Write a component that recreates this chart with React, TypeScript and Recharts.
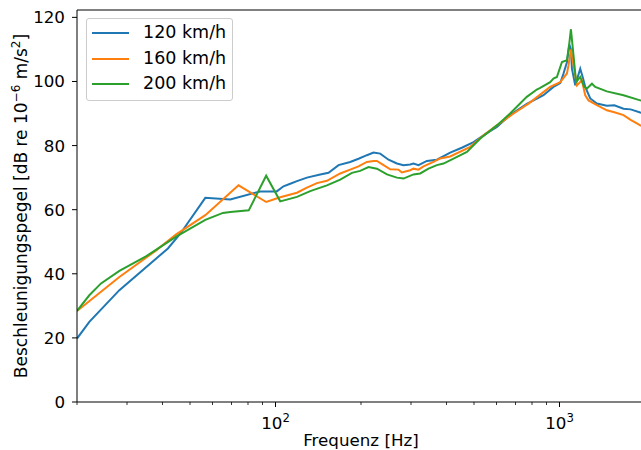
import { Label, Line, LineChart, ReferenceLine, XAxis, YAxis } from "recharts";

// 120 km/h
const freq120 = [
  20, 22.1, 28.2, 41.8, 46.2, 56.6, 69.3, 88.3, 101, 106.7, 112.7, 119, 129,
  143.7, 153.7, 166.7, 183.2, 196, 209.8, 221.3, 233.8, 250, 267.6, 282.3, 298,
  306.1, 318.8, 341.3, 370, 412.3, 455, 498, 555, 602, 670, 767, 810, 878, 952,
  1006, 1033, 1062, 1083, 1097, 1106, 1136, 1160, 1183, 1210, 1232, 1283, 1354,
  1468, 1560, 1680, 1780, 1924, 2000,
];
const level120 = [
  19.8, 25.0, 34.9, 47.9, 52.5, 63.7, 63.2, 65.7, 65.7, 67.3, 68.1, 68.9, 70.0,
  71.0, 71.5, 73.9, 74.9, 75.9, 77.0, 77.8, 77.5, 75.6, 74.4, 73.9, 74.1, 74.4,
  73.9, 75.2, 75.6, 77.8, 79.4, 81.1, 83.9, 85.8, 89.5, 93.0, 94.1, 95.7, 98.3,
  99.5, 102.5, 106.0, 111.5, 110.0, 104.0, 98.8, 101.5, 104.0, 101.0, 98.3,
  94.7, 93.1, 92.4, 92.6, 91.5, 91.3, 90.3, 90.1,
];

// 160 km/h
const freq160 = [
  20, 28.2, 38, 44.7, 56.6, 74.1, 92.7, 103.9, 119, 129, 139.9, 151.7, 169,
  183.2, 196, 209.8, 221.3, 227.5, 240.2, 253.5, 271.1, 278.6, 298, 306.1,
  318.8, 331.9, 359.9, 380, 412, 485, 540, 602, 689, 778, 927, 1006, 1062, 1076,
  1097, 1120, 1152, 1199, 1232, 1265, 1354, 1468, 1560, 1680, 1780, 1873, 1924,
  2000,
];
const level160 = [
  28.4, 39.0, 47.3, 52.3, 58.3, 67.6, 62.4, 63.9, 65.3, 66.9, 68.3, 69.0, 71.3,
  72.5, 73.5, 74.9, 75.2, 75.2, 73.9, 72.6, 72.5, 71.6, 72.3, 72.8, 72.5, 73.5,
  74.9, 76.0, 76.6, 79.6, 83.2, 86.3, 90.0, 93.1, 98.3, 99.8, 102.5, 105.1,
  110.0, 105.1, 98.8, 100.4, 95.7, 94.1, 92.6, 91.0, 90.4, 89.5, 88.0, 86.9,
  86.3, 85.7,
];

// 200 km/h
const freq200 = [
  20, 22.1, 24.3, 28.2, 35.1, 44.7, 56.6, 65.3, 69.3, 80.5, 92.7, 103.9, 119,
  132.5, 151.7, 169, 185.8, 198.7, 212.5, 227.5, 246.9, 267.6, 282.3, 306.1,
  323.2, 345.7, 370, 390.4, 423.5, 472, 526, 602, 670, 767, 832, 855, 927, 952,
  979, 1020, 1062, 1083, 1097, 1120, 1144, 1183, 1222, 1249, 1301, 1336, 1468,
  1680, 1924, 2000,
];
const level200 = [
  28.4, 33.3, 37.0, 40.9, 45.5, 51.6, 56.8, 59.0, 59.3, 59.8, 70.6, 62.6, 64.0,
  65.8, 67.6, 69.4, 71.5, 72.1, 73.3, 72.8, 71.0, 70.0, 69.7, 71.0, 71.3, 72.8,
  73.9, 74.4, 75.9, 78.0, 82.2, 86.3, 90.0, 95.2, 97.5, 98.0, 99.8, 100.9,
  101.4, 106.1, 106.6, 112.0, 116.3, 108.2, 99.8, 101.4, 98.3, 97.8, 99.3, 98.3,
  96.9, 95.7, 94.1, 93.8,
];

const X_TICKS = [
  20, 30, 40, 50, 60, 70, 80, 90, 100, 200, 300, 400, 500, 600, 700, 800, 900,
  1000, 2000,
];
const Y_TICKS = [0, 20, 40, 60, 80, 100, 120];
const Y_MAX = 122.3;

const FONT = "'DejaVu Sans', sans-serif";
const FS = 16.7;

const toPoints = (f: number[], v: number[]) =>
  f.map((x, i) => ({ f: x, v: v[i] }));

const SERIES = [
  { name: "120 km/h", color: "#1f77b4", data: toPoints(freq120, level120) },
  { name: "160 km/h", color: "#ff7f0e", data: toPoints(freq160, level160) },
  { name: "200 km/h", color: "#2ca02c", data: toPoints(freq200, level200) },
];

function FreqTick(props: any) {
  const { x, y, payload } = props;
  const v = payload.value;
  const major = v === 100 || v === 1000;
  return (
    <g>
      <line
        x1={x}
        x2={x}
        y1={y}
        y2={y + (major ? 5 : 3)}
        stroke="#000"
        strokeWidth={major ? 1 : 0.8}
      />
      {major && (
        <text
          x={x}
          y={y + 27}
          textAnchor="middle"
          fontSize={FS}
          fill="#000"
          fontFamily={FONT}
        >
          10
          <tspan dy={-7} fontSize={FS * 0.7}>
            {Math.round(Math.log10(v))}
          </tspan>
        </text>
      )}
    </g>
  );
}

function XTitle(props: any) {
  const { viewBox } = props;
  return (
    <text
      x={viewBox.x + viewBox.width / 2}
      y={viewBox.y + 44}
      textAnchor="middle"
      fontSize={FS}
      fill="#000"
      fontFamily={FONT}
    >
      Frequenz [Hz]
    </text>
  );
}

function YTitle(props: any) {
  const { viewBox } = props;
  const cx = viewBox.x + 27;
  const cy = viewBox.y + viewBox.height / 2;
  return (
    <text
      x={cx}
      y={cy}
      transform={`rotate(-90 ${cx} ${cy})`}
      textAnchor="middle"
      fontSize={17}
      fill="#000"
      fontFamily={FONT}
    >
      Beschleunigungspegel [dB re 10
      <tspan dy={-7} fontSize={12}>
        −6
      </tspan>
      <tspan dy={7}> m/s</tspan>
      <tspan dy={-7} fontSize={12}>
        2
      </tspan>
      <tspan dy={7}>]</tspan>
    </text>
  );
}

function LegendBox() {
  return (
    <div
      style={{
        position: "absolute",
        left: 86,
        top: 18,
        width: 147,
        height: 83,
        boxSizing: "border-box",
        border: "1px solid #cccccc",
        borderRadius: 3,
        background: "rgba(255,255,255,0.8)",
        fontFamily: FONT,
        fontSize: 17.5,
      }}
    >
      {SERIES.map((s, i) => (
        <div
          key={s.name}
          style={{
            position: "absolute",
            left: 0,
            top: 0.8 + i * 25.8,
            height: 25.8,
            width: "100%",
            lineHeight: "25.8px",
            whiteSpace: "nowrap",
          }}
        >
          <span
            style={{
              position: "absolute",
              left: 5,
              top: 12,
              width: 37,
              height: 2,
              background: s.color,
            }}
          />
          <span style={{ position: "absolute", left: 56, top: 0, color: "#000" }}>
            {s.name}
          </span>
        </div>
      ))}
    </div>
  );
}

export default function App() {
  return (
    <div
      style={{
        position: "absolute",
        left: 0,
        top: 0,
        width: 641,
        height: 450,
        overflow: "hidden",
        background: "#fff",
        fontFamily: FONT,
      }}
    >
      <LineChart
        width={650}
        height={450}
        margin={{ top: 10, right: 5, bottom: 0, left: 0 }}
      >
        <XAxis
          dataKey="f"
          type="number"
          scale="log"
          domain={[20, 2000]}
          allowDataOverflow
          ticks={X_TICKS}
          interval={0}
          height={48}
          tickSize={0}
          tickMargin={0}
          tickLine={false}
          axisLine={{ stroke: "#000" }}
          tick={<FreqTick />}
        >
          <Label content={<XTitle />} />
        </XAxis>
        <YAxis
          type="number"
          domain={[0, Y_MAX]}
          allowDataOverflow
          ticks={Y_TICKS}
          interval={0}
          width={77}
          tickSize={5}
          tickMargin={7}
          axisLine={{ stroke: "#000" }}
          tickLine={{ stroke: "#000" }}
          tick={{ fill: "#000", fontSize: FS, fontFamily: FONT }}
        >
          <Label content={<YTitle />} />
        </YAxis>
        <ReferenceLine y={Y_MAX} stroke="#000" strokeWidth={1} />
        {SERIES.map((s) => (
          <Line
            key={s.name}
            data={s.data}
            dataKey="v"
            name={s.name}
            type="linear"
            stroke={s.color}
            strokeWidth={2}
            dot={false}
            isAnimationActive={false}
          />
        ))}
      </LineChart>
      <LegendBox />
    </div>
  );
}
